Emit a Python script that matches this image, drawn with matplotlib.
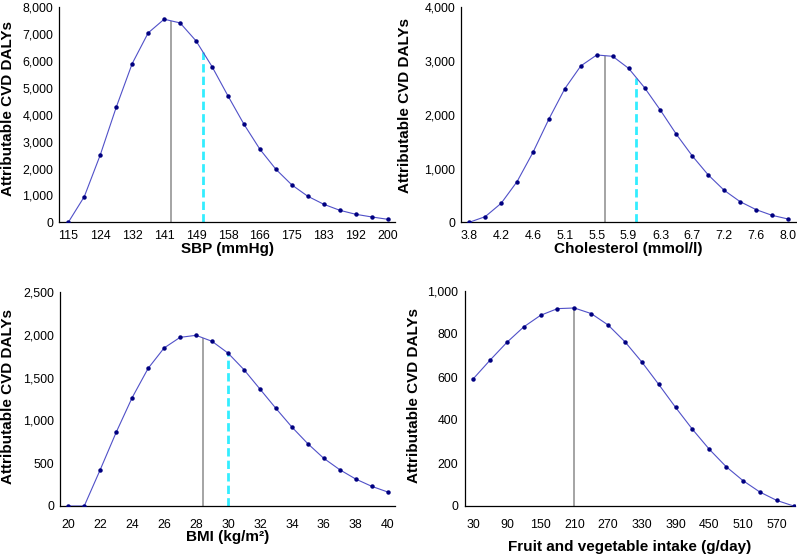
import numpy as np
import matplotlib
matplotlib.use("Agg")
import matplotlib.pyplot as plt

plt.rcParams['font.family'] = ['Liberation Sans', 'DejaVu Sans']

# SBP panel
sbp_x = 115 + 4.25 * np.arange(21)
sbp_y = [0, 955, 2506, 4280, 5905, 7047, 7556, 7419, 6749, 5794, 4702,
         3648, 2717, 1973, 1390, 968, 670, 447, 298, 199, 112]
sbp_ticks = ['115', '124', '132', '141', '149', '158', '166', '175', '183', '192', '200']
sbp_mean = 142.3
sbp_target = 150.9

# Cholesterol panel
chol_x = 3.8 + 0.21 * np.arange(21)
chol_y = [0, 105, 353, 757, 1302, 1922, 2487, 2909, 3113, 3088, 2865,
          2505, 2084, 1637, 1234, 881, 595, 384, 236, 130, 62]
chol_ticks = ['3.8', '4.2', '4.6', '5.1', '5.5', '5.9', '6.3', '6.7', '7.2', '7.6', '8.0']
chol_mean = 5.59
chol_target = 6.0

# BMI panel
bmi_x = np.arange(20, 41)
bmi_y = [0, 0, 424, 861, 1266, 1608, 1846, 1970, 1994, 1924, 1787,
         1593, 1367, 1141, 923, 728, 557, 424, 315, 230, 164]
bmi_ticks = ['20', '22', '24', '26', '28', '30', '32', '34', '36', '38', '40']
bmi_mean = 28.44
bmi_target = 30.0

# Fruit and vegetable panel
fv_x = np.arange(30, 601, 30)
fv_y = [591, 678, 761, 833, 887, 918, 921, 895, 842, 764,
        670, 566, 459, 357, 264, 183, 118, 65, 26, 0]
fv_ticks = ['30', '90', '150', '210', '270', '330', '390', '450', '510', '570']
fv_mean = 210

W, H = 797, 554
fig = plt.figure(figsize=(W / 100, H / 100), dpi=100)


def make_axes(l, r, b, t):
    return fig.add_axes([l / W, 1 - b / H, (r - l) / W, (b - t) / H])


panels = [
    # x, y, ticks, mean, target, xlabel, ymax, ystep, xlim, box, ylabel pos, tick pad, label pad
    (sbp_x, sbp_y, sbp_ticks, sbp_mean, sbp_target, 'SBP (mmHg)', 8000, 1000,
     (112.6, 201.95), (59.3, 395, 222.3, 7.3), (-0.132, 0.529), 5.5, 0),
    (chol_x, chol_y, chol_ticks, chol_mean, chol_target, 'Cholesterol (mmol/l)', 4000, 1000,
     (3.695, 8.10), (461.3, 795.5, 222.3, 7.3), (-0.1475, 0.541), 5.5, 0),
    (bmi_x, bmi_y, bmi_ticks, bmi_mean, bmi_target, 'BMI (kg/m²)', 2500, 500,
     (19.5, 40.46), (60.3, 395, 506, 292), (-0.135, 0.514), 9, 0),
    (fv_x, fv_y, fv_ticks, fv_mean, None, 'Fruit and vegetable intake (g/day)', 1000, 200,
     (15, 602.5), (464.7, 795, 506, 291), (-0.132, 0.514), 9, 6.5),
]

for x, y, ticks, mean, target, xlabel, ymax, ystep, xlim, box, ylpos, xpad, lpad in panels:
    ax = make_axes(*box)
    ax.plot(x, y, color='#5050c8', lw=0.8, marker='o', ms=2.2,
            mfc='#000080', mec='#000080', zorder=3)
    ax.vlines(mean, 0, np.interp(mean, x, y), color='#8c8c8c', lw=1.1, zorder=2)
    if target is not None:
        ax.vlines(target, 0, np.interp(target, x, y), color='#33eeff', lw=2,
                  linestyles=(0, (3, 1.5)), zorder=2)
    ax.set_xlim(*xlim)
    ax.set_ylim(0, ymax)
    ax.set_xticks(x[::2])
    ax.set_xticklabels(ticks)
    yt = np.arange(0, ymax + 1, ystep)
    ax.set_yticks(yt)
    ax.set_yticklabels([f'{v:,}' for v in yt])
    ax.tick_params(axis='both', length=0, labelsize=8.9)
    ax.tick_params(axis='x', pad=xpad)
    ax.tick_params(axis='y', pad=4.5)
    for s in ['top', 'right']:
        ax.spines[s].set_visible(False)
    for s in ['left', 'bottom']:
        ax.spines[s].set_linewidth(0.9)
    ax.set_xlabel(xlabel, fontsize=11, fontweight='bold', labelpad=lpad)
    ax.set_ylabel('Attributable CVD DALYs', fontsize=11, fontweight='bold')
    ax.yaxis.set_label_coords(*ylpos)

fig.savefig('out.png', dpi=100)
